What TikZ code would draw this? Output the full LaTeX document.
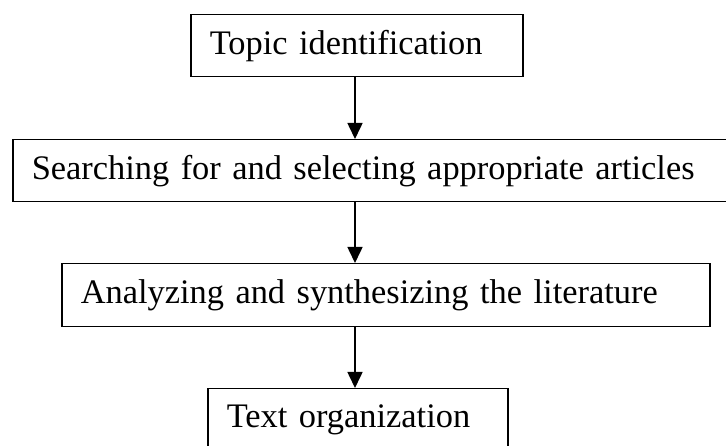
\documentclass[tikz,border=0pt]{standalone}
\usepackage{fontspec}
\setmainfont{Liberation Serif}
\usetikzlibrary{arrows.meta}
\begin{document}
\begin{tikzpicture}[x=1pt,y=1pt,
  stagebox/.style={draw=black, line width=1.5pt, anchor=north west, inner xsep=19pt, inner ysep=0pt,
    align=left, font=\fontsize{34.4}{40}\selectfont},
  flowarrow/.style={line width=1.6pt, -{Triangle[length=16pt,width=15pt]}}]
\useasboundingbox (0,0) rectangle (726,446);
\node[stagebox, minimum width=332pt, minimum height=62pt, text width=294pt] (b1) at (190,432) {Topic identification};
\node[stagebox, minimum width=718pt, minimum height=62pt, text width=680pt] (b2) at (12,307) {Searching for and selecting appropriate articles};
\node[stagebox, minimum width=648pt, minimum height=63pt, text width=610pt] (b3) at (61,183) {Analyzing and synthesizing the literature};
\node[stagebox, minimum width=300pt, minimum height=62pt, text width=262pt] (b4) at (207,58) {Text organization};
\coordinate (ax) at (355,0);
\draw[flowarrow] (b1.south -| ax) -- (b2.north -| ax);
\draw[flowarrow] (b2.south -| ax) -- (b3.north -| ax);
\draw[flowarrow] (b3.south -| ax) -- (b4.north -| ax);
\end{tikzpicture}
\end{document}
